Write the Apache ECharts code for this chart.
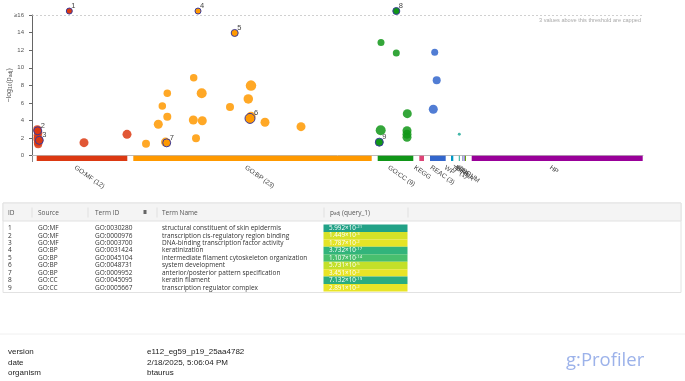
<!DOCTYPE html>
<html>
<head>
<meta charset="utf-8">
<script src="https://cdn.jsdelivr.net/npm/echarts@6/dist/echarts.min.js"></script>
<style>
html, body { margin: 0; padding: 0; background: #fff; }
#chart { width: 685px; height: 381px; }
</style>
</head>
<body>
<div id="chart"></div>
<script>
// sources along the x axis (positions in term-order units)
var sourceNames = ['GO:MF (12)', 'GO:BP (23)', 'GO:CC (9)', 'KEGG', 'REAC (3)', 'WP', 'TF (1)', 'MIRNA', 'HPA', 'CORUM', 'HP'];
var sourceStart = [4.7, 101.3, 345.7, 387.3, 398, 419, 426.8, 430.4, 431.8, 433, 439.7];
var sourceEnd = [95.3, 339.7, 381.3, 392, 413.7, 421.3, 427.8, 430.7, 432.1, 434, 610.7];
var sourceColors = ['#dc3912', '#ff9900', '#109618', '#dd4477', '#3366cc', '#0099c6', '#22aa99', '#5574a6', '#6633cc', '#66aa00', '#990099'];

// terms: [position, -log10(padj) (null = from table), term size, table id]
var mfPoints = [
	[5.3, 3.0, 1000, 0], [5.6, 2.3, 1000, 0], [5.4, 1.9, 1000, 0], [5.8, 1.5, 1000, 0],
	[6.2, 1.3, 1000, 0], [6.6, 2.6, 560, 0], [5.9, 2.1, 560, 0], [52, 1.48, 3162, 0],
	[95, 2.43, 3162, 0],
	[37.3, null, 100, 1], [5.7, null, 1000, 2], [7.3, null, 1000, 3]
];
var bpPoints = [
	[114, 1.37, 1000, 0], [133.5, 1.55, 3162, 0], [126.3, 3.57, 3162, 0], [135.3, 4.44, 1000, 0],
	[130.3, 5.65, 560, 0], [135.3, 7.1, 560, 0], [161.7, 8.87, 560, 0], [169.7, 7.1, 10000, 0],
	[161.3, 4.06, 3162, 0], [170.3, 3.98, 3162, 0], [164, 1.98, 1000, 0], [198, 5.55, 1000, 0],
	[219, 7.97, 17800, 0], [216.3, 6.45, 5620, 0], [219, 4.5, 3162, 0], [233, 3.8, 3162, 0],
	[269, 3.3, 3162, 0],
	[166, null, 100, 4], [202.7, null, 316, 5], [218, null, 10000, 6], [134.7, null, 1000, 7]
];
var ccPoints = [
	[349, 12.86, 316, 0], [364.3, 11.68, 316, 0], [375.3, 4.78, 3162, 0], [348.7, 2.89, 10000, 0],
	[375, 2.85, 3162, 0], [375, 2.45, 3162, 0], [375, 2.09, 3162, 0],
	[364.3, null, 316, 8], [347.3, null, 1000, 9]
];
var reacPoints = [[402.7, 11.76, 316, 0], [404.7, 8.58, 1000, 0], [401.3, 5.28, 3162, 0]];
var tfPoints = [[427.3, 2.43, 3, 0]];

var yTicks = [0, 2, 4, 6, 8, 10, 12, 14, 16];
var capValue = 16;

// table
var rowIds = ['1', '2', '3', '4', '5', '6', '7', '8', '9'];
var termSources = ['GO:MF', 'GO:MF', 'GO:MF', 'GO:BP', 'GO:BP', 'GO:BP', 'GO:BP', 'GO:CC', 'GO:CC'];
var termIds = ['GO:0030280', 'GO:0000976', 'GO:0003700', 'GO:0031424', 'GO:0045104', 'GO:0048731', 'GO:0009952', 'GO:0045095', 'GO:0005667'];
var termNames = [
	'structural constituent of skin epidermis',
	'transcription cis-regulatory region binding',
	'DNA-binding transcription factor activity',
	'keratinization',
	'intermediate filament cytoskeleton organization',
	'system development',
	'anterior/posterior pattern specification',
	'keratin filament',
	'transcription regulator complex'
];
var pMantissa = [5.992, 1.449, 1.787, 3.732, 1.107, 5.731, 3.451, 7.132, 2.891];
var pExponent = [-21, -3, -2, -17, -14, -5, -2, -19, -2];

function negLog(i) {
	return -(Math.log10(pMantissa[i]) + pExponent[i]);
}
function cellColor(v) {
	var t = Math.min(v / 21, 1);
	return echarts.color.lerp(t, ['#fde725', '#b5de2b', '#6ece58', '#35b779', '#1f9e89']);
}

var font = 'Liberation Sans, Arial, sans-serif';
var tableFont = 'Open Sans, sans-serif';

function buildScatter(points, color) {
	var data = points.map(function(p) {
		var y = p[3] ? negLog(p[3] - 1) : p[1];
		var shown = y > capValue ? capValue + 0.45 : y;
		var item = { value: [p[0], shown, p[2], p[3]] };
		if (p[3]) {
			item.itemStyle = { borderColor: '#3a3a9c', borderWidth: 1, opacity: 1 };
			item.label = {
				show: true, formatter: String(p[3]), position: 'right', distance: 0,
				offset: [-1.5, -5], fontSize: 7.5, color: '#444', fontFamily: font
			};
		}
		return item;
	});
	return {
		type: 'scatter',
		xAxisIndex: 0, yAxisIndex: 0,
		clip: false,
		symbolSize: function(v) { return 2 + 2 * Math.log10(v[2]); },
		itemStyle: { color: color, opacity: 0.85 },
		emphasis: { disabled: true },
		data: data,
		z: 3
	};
}

var myChart = echarts.init(document.getElementById('chart'), null, { renderer: 'canvas' });

var series = [
	buildScatter(mfPoints, sourceColors[0]),
	buildScatter(bpPoints, sourceColors[1]),
	buildScatter(ccPoints, sourceColors[2]),
	buildScatter(reacPoints, sourceColors[4]),
	buildScatter(tfPoints, sourceColors[6])
];
// threshold line
series[0].markLine = {
	silent: true, symbol: 'none',
	lineStyle: { color: '#bbb', type: [2, 2], width: 0.7 },
	label: {
		show: true, position: 'insideEndBottom', distance: 2,
		formatter: '3 values above this threshold are capped',
		fontSize: 5.6, color: '#aaa', fontFamily: font
	},
	data: [{ yAxis: capValue }]
};

// source bars + labels
series.push({
	type: 'custom',
	xAxisIndex: 0, yAxisIndex: 0,
	clip: false,
	silent: true,
	data: sourceNames.map(function(n, i) { return [sourceStart[i], sourceEnd[i], i]; }),
	encode: { x: [0, 1] },
	renderItem: function(params, api) {
		var i = api.value(2);
		var s = api.coord([api.value(0), 0]);
		var e = api.coord([api.value(1), 0]);
		var cx = (s[0] + e[0]) / 2;
		return {
			type: 'group',
			children: [{
				type: 'rect',
				shape: { x: s[0], y: s[1], width: Math.max(e[0] - s[0], 0.8), height: 5.3 },
				style: { fill: sourceColors[i] }
			}, {
				type: 'text',
				x: cx - 5, y: s[1] + 8.5,
				rotation: -35 * Math.PI / 180,
				style: {
					text: sourceNames[i], fontSize: 6.6, fill: '#444', fontFamily: font,
					align: 'left', verticalAlign: 'top'
				}
			}]
		};
	}
});

// table rows
series.push({
	type: 'custom',
	xAxisIndex: 1, yAxisIndex: 1,
	silent: true,
	data: rowIds.map(function(id, i) { return [0, i]; }),
	encode: { x: 0, y: 1 },
	renderItem: function(params, api) {
		var i = api.value(1);
		var c = api.coord([0, i]);
		var h = api.size([0, 1])[1];
		var y = c[1];
		var txt = function(x, s, extra) {
			var st = { text: s, fontSize: 6.5, fill: '#333', fontFamily: tableFont, verticalAlign: 'middle', align: 'left' };
			for (var k in extra) st[k] = extra[k];
			return { type: 'text', x: x, y: y, style: st };
		};
		return {
			type: 'group',
			children: [
				{ type: 'rect', shape: { x: 323.5, y: y - h / 2, width: 84, height: h }, style: { fill: cellColor(negLog(i)) } },
				txt(8, rowIds[i]),
				txt(38, termSources[i]),
				txt(95, termIds[i]),
				txt(162, termNames[i]),
				txt(329, '{m|' + pMantissa[i].toFixed(3) + '×10}{e|' + pExponent[i] + '}', {
					fill: '#fff',
					rich: {
						m: { fontSize: 6.3, fill: '#fff', fontFamily: tableFont, lineHeight: 7 },
						e: { fontSize: 4.3, fill: '#fff', fontFamily: tableFont, verticalAlign: 'top', lineHeight: 7 }
					}
				})
			]
		};
	}
});

var graphics = [
	// short joint between y axis and the baseline
	{ type: 'line', shape: { x1: 32.5, y1: 155.7, x2: 32.5, y2: 162 }, style: { stroke: '#888', lineWidth: 1 } },
	// table frame and header
	{ type: 'rect', shape: { x: 3, y: 203, width: 678, height: 89.5 }, style: { fill: 'none', stroke: '#e2e2e2', lineWidth: 1 }, z: 0 },
	{ type: 'rect', shape: { x: 3, y: 203, width: 678, height: 18 }, style: { fill: '#f4f4f4', stroke: '#e2e2e2', lineWidth: 1 }, z: 0 }
];
[32, 88, 157, 324, 408].forEach(function(x) {
	graphics.push({ type: 'line', shape: { x1: x, y1: 207.5, x2: x, y2: 217.5 }, style: { stroke: '#dcdcdc', lineWidth: 0.8 } });
});
var headers = [[8, 'ID'], [38, 'Source'], [95, 'Term ID'], [162, 'Term Name']];
headers.forEach(function(h) {
	graphics.push({ type: 'text', x: h[0], y: 213, style: { text: h[1], fontSize: 6.5, fill: '#555', fontFamily: tableFont, verticalAlign: 'middle' } });
});
graphics.push({
	type: 'text', x: 330, y: 213,
	style: {
		text: '{p|p}{s|adj}{p| (query_1)}', fontFamily: tableFont, verticalAlign: 'middle',
		rich: {
			p: { fontSize: 6.5, fill: '#555', fontFamily: tableFont },
			s: { fontSize: 4.5, fill: '#555', fontFamily: tableFont, verticalAlign: 'bottom' }
		}
	}
});
graphics.push({ type: 'rect', shape: { x: 143.5, y: 210, width: 3, height: 4 }, style: { fill: '#666' } });

// footer
graphics.push({ type: 'line', shape: { x1: 0, y1: 334, x2: 685, y2: 334 }, style: { stroke: '#f0f0f0', lineWidth: 1 } });
var footerKeys = ['version', 'date', 'organism'];
var footerVals = ['e112_eg59_p19_25aa4782', '2/18/2025, 5:06:04 PM', 'btaurus'];
footerKeys.forEach(function(k, i) {
	var y = 352 + i * 10.5;
	graphics.push({ type: 'text', x: 8, y: y, style: { text: k, fontSize: 8, fill: '#222', fontFamily: font, verticalAlign: 'middle' } });
	graphics.push({ type: 'text', x: 147, y: y, style: { text: footerVals[i], fontSize: 8, fill: '#222', fontFamily: font, verticalAlign: 'middle' } });
});
graphics.push({ type: 'text', x: 566, y: 361, style: { text: 'g:Profiler', fontSize: 18.5, fill: '#9cb2ea', fontFamily: tableFont, verticalAlign: 'middle' } });

var option = {
	animation: false,
	backgroundColor: '#fff',
	grid: [
		{ left: 32, right: 42, top: 15, height: 140.7, containLabel: false, outerBoundsMode: 'none' },
		{ left: 3, width: 678, top: 224.5, height: 67, containLabel: false, outerBoundsMode: 'none' }
	],
	xAxis: [{
		type: 'value', gridIndex: 0, min: 0, max: 611, offset: 6,
		axisLine: { show: true, lineStyle: { color: '#bbb', width: 1 } },
		axisTick: { show: false }, axisLabel: { show: false }, splitLine: { show: false }
	}, {
		type: 'value', gridIndex: 1, min: 0, max: 1, show: false
	}],
	yAxis: [{
		type: 'value', gridIndex: 0, min: 0, max: 16, interval: 2,
		name: '−log{s|10}(p{s|adj})',
		nameLocation: 'middle', nameGap: 19, nameRotate: 90, nameMoveOverlap: false,
		nameTextStyle: {
			fontSize: 7, color: '#555', fontFamily: font,
			rich: { s: { fontSize: 5, color: '#555', fontFamily: font, verticalAlign: 'bottom' } }
		},
		axisLine: { show: true, lineStyle: { color: '#666', width: 1 } },
		axisTick: { show: true, length: 3, lineStyle: { color: '#666' } },
		axisLabel: {
			fontSize: 6, color: '#555', fontFamily: font, margin: 8,
			formatter: function(v) { return v === yTicks[yTicks.length - 1] ? '≥' + v : String(v); }
		},
		splitLine: { show: false }
	}, {
		type: 'category', gridIndex: 1, data: rowIds, inverse: true, show: false
	}],
	graphic: graphics,
	series: series
};
myChart.setOption(option);
</script>
</body>
</html>
